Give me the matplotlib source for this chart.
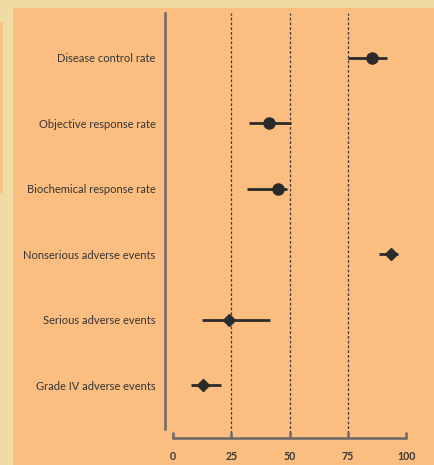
import matplotlib
matplotlib.use("Agg")
import matplotlib.pyplot as plt
from matplotlib.patches import Rectangle

# Outcome estimates (%) with 95% confidence intervals
outcomes = [
    "Disease control rate",
    "Objective response rate",
    "Biochemical response rate",
    "Nonserious adverse events",
    "Serious adverse events",
    "Grade IV adverse events",
]
estimates = [85.3, 41.2, 44.9, 93.7, 23.9, 13.0]
ci_low = [75.2, 32.6, 31.8, 88.3, 12.3, 7.9]
ci_high = [91.8, 50.6, 48.9, 96.7, 41.5, 20.7]
markers = ["o", "o", "o", "D", "D", "D"]
x_ticks = [0, 25, 50, 75, 100]
ref_lines = [25, 50, 75]

plt.rcParams["font.family"] = ["Lato", "DejaVu Sans"]

BG = "#EEDCA2"
PANEL = "#FBBD80"
INK = "#2B2B2B"
AXIS = "#686868"
TEXT = "#353535"

W, H = 434, 465
fig = plt.figure(figsize=(W / 100, H / 100), dpi=100, facecolor=BG)

# orange panel behind the chart, plus the edge of the neighbouring panel
fig.patches.append(Rectangle((13 / W, 0), 1 - 13 / W, 1 - 8 / H,
                             transform=fig.transFigure, facecolor=PANEL,
                             edgecolor="none", zorder=-2))
fig.patches.append(Rectangle((0, 1 - 193 / H), 2.5 / W, (193 - 22) / H,
                             transform=fig.transFigure, facecolor="#F7C286",
                             edgecolor="none", zorder=-2))

left, right, top, bottom = 164.7, 406, 13, 429
ax = fig.add_axes([left / W, 1 - bottom / H, (right - left) / W, (bottom - top) / H])
ax.set_facecolor("none")
ax.set_zorder(1)

px_per_unit = (406 - 173) / 100
ax.set_xlim(-(173 - left) / px_per_unit, 100)
row_px = 65.46
ax.set_ylim((bottom - 58) / row_px, -(58 - top) / row_px)

ypos = list(range(len(outcomes)))

# reference lines at quartiles, extending down to the x axis
ax.vlines(ref_lines, -9 / (bottom - top), 1, transform=ax.get_xaxis_transform(),
          colors="#3C3C3C", linestyles=(0, (2.2, 1.6)), linewidth=0.9,
          clip_on=False, zorder=1)

for y, est, lo, hi, m in zip(ypos, estimates, ci_low, ci_high, markers):
    ax.hlines(y, lo, hi, colors=INK, linewidth=2.0, zorder=2)
    ax.plot(est, y, marker=m, color=INK, markersize=8.0 if m == "o" else 6.3,
            linestyle="none", zorder=3, clip_on=False)

for side in ("top", "right"):
    ax.spines[side].set_visible(False)
ax.spines["left"].set_color(AXIS)
ax.spines["left"].set_linewidth(1.8)
ax.spines["bottom"].set_color(AXIS)
ax.spines["bottom"].set_linewidth(1.8)
ax.spines["bottom"].set_bounds(0, 100)
ax.spines["bottom"].set_position(("outward", 9 * 0.72))

ax.set_xticks(x_ticks)
ax.set_xticklabels([str(t) for t in x_ticks], fontweight="bold", fontsize=7.6, color=TEXT)
ax.tick_params(axis="x", direction="in", length=4, width=1.8, color=AXIS, pad=9)

ax.set_yticks(ypos)
ax.set_yticklabels(outcomes, fontsize=8.0, color=TEXT)
ax.tick_params(axis="y", length=0, pad=6.5)

fig.savefig("out.png", dpi=100, facecolor=BG)
